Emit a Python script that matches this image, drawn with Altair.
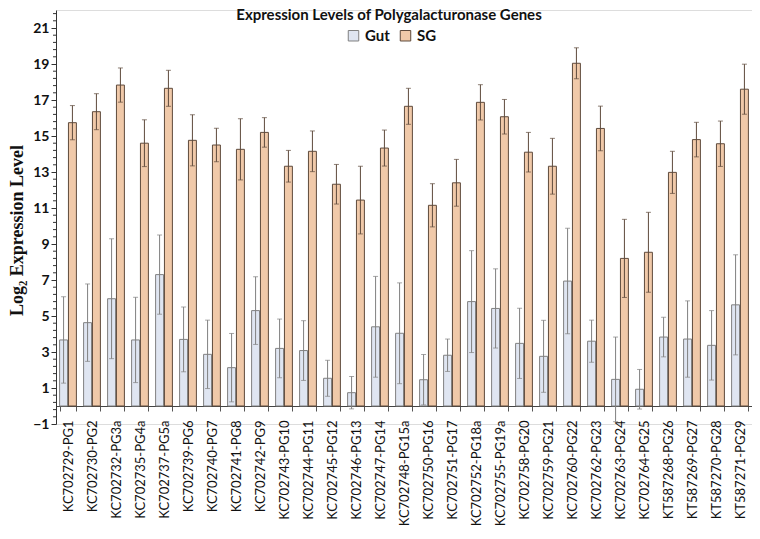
import altair as alt
import pandas as pd

genes = ["KC702729-PG1", "KC702730-PG2", "KC702732-PG3a", "KC702735-PG4a", "KC702737-PG5a",
         "KC702739-PG6", "KC702740-PG7", "KC702741-PG8", "KC702742-PG9", "KC702743-PG10",
         "KC702744-PG11", "KC702745-PG12", "KC702746-PG13", "KC702747-PG14", "KC702748-PG15a",
         "KC702750-PG16", "KC702751-PG17", "KC702752-PG18a", "KC702755-PG19a", "KC702758-PG20",
         "KC702759-PG21", "KC702760-PG22", "KC702762-PG23", "KC702763-PG24", "KC702764-PG25",
         "KT587268-PG26", "KT587269-PG27", "KT587270-PG28", "KT587271-PG29"]

gut = [3.67, 4.63, 5.96, 3.67, 7.30, 3.70, 2.87, 2.13, 5.30, 3.20, 3.08, 1.54, 0.74, 4.40, 4.04,
       1.46, 2.82, 5.80, 5.42, 3.48, 2.76, 6.94, 3.60, 1.48, 0.93, 3.83, 3.72, 3.37, 5.62]
gut_err = [2.40, 2.15, 3.33, 2.37, 2.20, 1.80, 1.90, 1.90, 1.88, 1.63, 1.66, 1.00, 0.90, 2.80, 2.80,
           1.40, 0.90, 2.83, 2.20, 1.95, 2.00, 2.93, 1.17, 2.35, 1.10, 1.10, 2.12, 1.93, 2.78]
sg = [15.74, 16.35, 17.83, 14.60, 17.65, 14.76, 14.50, 14.26, 15.20, 13.32, 14.15, 12.32, 11.44, 14.33, 16.65,
      11.15, 12.40, 16.87, 16.07, 14.10, 13.32, 19.04, 15.42, 8.20, 8.54, 12.98, 14.80, 14.57, 17.60]
sg_err = [0.95, 1.00, 0.95, 1.30, 1.00, 1.42, 0.93, 1.70, 0.82, 0.88, 1.13, 1.10, 1.88, 1.00, 1.00,
          1.20, 1.30, 0.98, 0.96, 1.10, 1.55, 0.86, 1.24, 2.17, 2.22, 1.17, 0.96, 1.26, 1.39]

series = ["Gut", "SG"]
y_labels = [-1, 1, 3, 5, 7, 9, 11, 13, 15, 17, 19, 21]

rows = []
for i, g in enumerate(genes):
    rows.append({"gene": g, "series": "Gut", "value": gut[i], "lo": gut[i] - gut_err[i], "hi": gut[i] + gut_err[i]})
    rows.append({"gene": g, "series": "SG", "value": sg[i], "lo": sg[i] - sg_err[i], "hi": sg[i] + sg_err[i]})
df = pd.DataFrame(rows)

# minor tick positions of the value axis (every 0.4, skipping the labelled ticks)
minor = [round(-1 + 0.4 * k, 2) for k in range(58)]
minor_df = pd.DataFrame({"m": [m for m in minor if m not in y_labels]})

FONT = "Lato"
yscale = alt.Scale(domain=[-1, 22], nice=False, zero=False)
yaxis = alt.Axis(values=y_labels, grid=False, labelFont=FONT, labelFontSize=14,
                 labelFontWeight="bold", labelColor="#111", tickSize=5, tickColor="#333",
                 domainColor="#333", labelOverlap=False, title="Log₂ Expression Level",
                 titleFont="Liberation Serif", titleFontSize=18, titleFontWeight="bold",
                 titleColor="#111", titlePadding=6, titleY=220)

xenc = alt.X("gene:N", sort=genes, title=None,
             scale=alt.Scale(paddingInner=0.3, paddingOuter=0.15),
             axis=alt.Axis(labelAngle=-90, labelFont=FONT, labelFontSize=13, labelColor="#111",
                           offset=-18, tickBand="extent", tickSize=5, tickColor="#555",
                           domainColor="#444", labelPadding=9))
xoff = alt.XOffset("series:N", sort=series, scale=alt.Scale(paddingInner=0.1))

fill_scale = alt.Scale(domain=series, range=["#dfe5f1", "#f0c9a9"])
stroke_scale = alt.Scale(domain=series, range=["#808080", "#5e4a3c"])

base = alt.Chart(df).encode(x=xenc, xOffset=xoff)

bars = base.mark_bar(strokeWidth=1).encode(
    y=alt.Y("value:Q", scale=yscale, axis=yaxis),
    fill=alt.Fill("series:N", scale=fill_scale,
                  legend=alt.Legend(orient="none", legendX=290, legendY=18, direction="horizontal",
                                    title=None, labelFont=FONT, labelFontSize=15,
                                    labelFontWeight="bold", labelColor="#111", symbolType="square",
                                    symbolSize=110, symbolStrokeWidth=1, columnPadding=8)),
    stroke=alt.Stroke("series:N", scale=stroke_scale),
)

rules = base.mark_rule(strokeWidth=1).encode(
    y=alt.Y("lo:Q", scale=yscale, axis=yaxis), y2="hi:Q",
    stroke=alt.Stroke("series:N", scale=stroke_scale),
)

caps = []
for s, c in zip(series, ["#808080", "#5e4a3c"]):
    for fld in ["lo", "hi"]:
        caps.append(base.transform_filter(alt.datum.series == s).mark_tick(
            color=c, size=5, thickness=1).encode(y=alt.Y(f"{fld}:Q", scale=yscale, axis=yaxis)))

minor_ticks = alt.Chart(minor_df).mark_rule(color="#333", strokeWidth=1).encode(
    y=alt.Y("m:Q", scale=yscale, axis=yaxis), x=alt.value(-3), x2=alt.value(0))

chart = alt.layer(bars, rules, *caps, minor_ticks).properties(
    width=696, height=414,
    padding={"left": 0, "top": 0, "right": 0, "bottom": 0},
    title=alt.TitleParams("Expression Levels of Polygalacturonase Genes", font=FONT, fontSize=15,
                          fontWeight="bold", color="#111", anchor="middle", dx=-15, dy=17),
).configure_view(stroke=None).configure(background="white")

chart.save("out.html", embed_options={"renderer": "svg", "actions": False})
